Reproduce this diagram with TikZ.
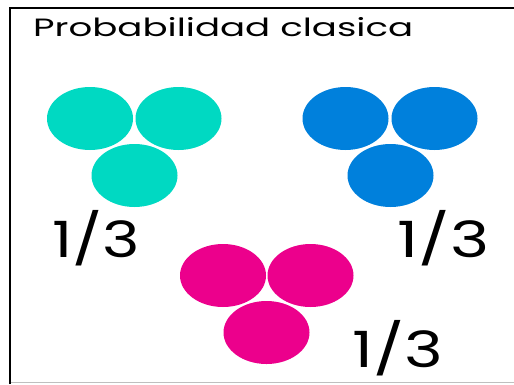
\documentclass[tikz,border=0pt]{standalone}
\usepackage{fontspec}
\setmainfont{Poppins}
\definecolor{tealc}{HTML}{00D9C2}
\definecolor{bluec}{HTML}{0080DC}
\definecolor{magc}{HTML}{EC008C}
\begin{document}
\begin{tikzpicture}[x=1pt,y=-1pt,
  frac/.style={font=\fontsize{50}{50}\selectfont, anchor=base west, inner sep=0pt},
  title/.style={font=\fontsize{25}{25}\selectfont, anchor=base west, inner sep=0pt}]
\useasboundingbox (0,0) rectangle (514,384);
\fill[white] (0,0) rectangle (514,384);
\draw[line width=2.5pt] (10,384) -- (10,8) -- (514,8);
\draw[line width=1pt, black!25] (11,382.5) -- (514,382.5);
\node[title] (t) at (33,36.5) {\resizebox{380pt}{\height}{Probabilidad clasica}};
% teal
\fill[tealc] (90,118.5) ellipse [x radius=43, y radius=31.5];
\fill[tealc] (178.5,118.5) ellipse [x radius=43, y radius=31.5];
\fill[tealc] (134.5,175.5) ellipse [x radius=43, y radius=31.5];
% blue
\fill[bluec] (345.5,118.5) ellipse [x radius=43, y radius=31.5];
\fill[bluec] (434.5,118.5) ellipse [x radius=43, y radius=31.5];
\fill[bluec] (390.5,175.5) ellipse [x radius=43, y radius=31.5];
% magenta
\fill[magc] (223,275.5) ellipse [x radius=43, y radius=31.5];
\fill[magc] (310.5,275.5) ellipse [x radius=43, y radius=31.5];
\fill[magc] (266.5,332.5) ellipse [x radius=43, y radius=31.5];
\node[frac] (f1) at (52,257) {\resizebox{88pt}{\height}{1/3}};
\node[frac] (f2) at (397,257) {\resizebox{92pt}{\height}{1/3}};
\node[frac] (f3) at (352,367) {\resizebox{91pt}{\height}{1/3}};
\end{tikzpicture}
\end{document}
